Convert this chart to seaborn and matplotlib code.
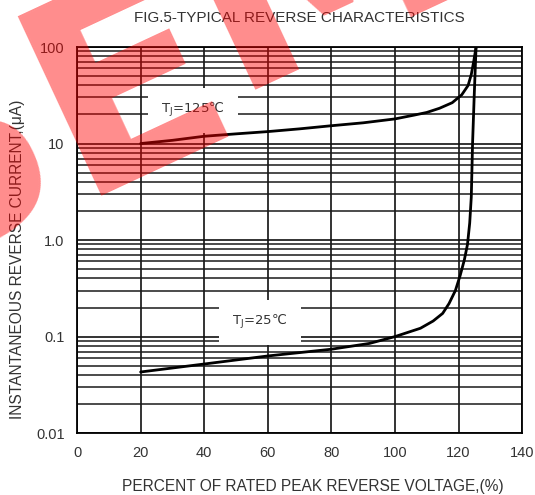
import numpy as np
import pandas as pd
import seaborn as sns
import matplotlib.pyplot as plt
from matplotlib.ticker import LogLocator, FixedLocator, NullFormatter

# values
x_125 = [20, 30, 40, 50, 60, 70, 80, 90, 100, 106, 110, 114, 118, 121, 123, 124, 124.8, 125.5]
y_125 = [10.0, 10.8, 11.9, 12.6, 13.3, 14.2, 15.3, 16.4, 18.0, 19.7, 21.0, 23.2, 26.5, 32, 40, 52, 72, 100]

x_25 = [20, 40, 60, 80, 92, 100, 108, 112, 115, 117, 119, 120.5, 121.8, 122.8, 123.5, 124, 124.4, 124.9, 125.5]
y_25 = [0.043, 0.052, 0.063, 0.074, 0.085, 0.10, 0.122, 0.145, 0.174, 0.22, 0.30, 0.43, 0.62, 0.9, 1.5, 2.8, 10, 30, 100]

x_ticks = [0, 20, 40, 60, 80, 100, 120, 140]
y_ticks = [0.01, 0.1, 1.0, 10, 100]
y_tick_labels = ["0.01", "0.1", "1.0", "10", "100"]

sns.set_theme(style="white")
plt.rcParams['font.family'] = ['Liberation Sans', 'DejaVu Sans']

fig = plt.figure(figsize=(5.35, 4.95), dpi=100)
ax = fig.add_axes([0.144, 0.125, 0.832, 0.78])

df125 = pd.DataFrame({"v": x_125, "i": y_125})
df25 = pd.DataFrame({"v": x_25, "i": y_25})
sns.lineplot(data=df125, x="v", y="i", ax=ax, color="black", lw=2.0, sort=False, zorder=5)
sns.lineplot(data=df25, x="v", y="i", ax=ax, color="black", lw=2.0, sort=False, zorder=5)

ax.set_yscale("log")
ax.set_xlim(0, 140)
ax.set_ylim(0.01, 100)
ax.xaxis.set_major_locator(FixedLocator(x_ticks))
ax.set_xticklabels([str(t) for t in x_ticks])
ax.yaxis.set_major_locator(FixedLocator(y_ticks))
ax.set_yticklabels(y_tick_labels)
ax.yaxis.set_minor_locator(LogLocator(base=10, subs=np.arange(2, 10)))
ax.yaxis.set_minor_formatter(NullFormatter())
ax.tick_params(axis="both", which="both", length=0, labelsize=10.5, colors="#333333")
ax.tick_params(axis="x", pad=9)
ax.tick_params(axis="y", pad=9)

ax.grid(True, which="major", axis="both", color="#111111", lw=1.2)
ax.grid(True, which="minor", axis="y", color="#1a1a1a", lw=1.1)
for s in ax.spines.values():
    s.set_color("black")
    s.set_linewidth(1.3)

ax.set_xlabel("PERCENT OF RATED PEAK REVERSE VOLTAGE,(%)", fontsize=11.2, color="#333333")
ax.xaxis.set_label_coords(0.53, -0.12)
ax.set_ylabel("INSTANTANEOUS REVERSE CURRENT,(\u03bcA)", fontsize=11.2, color="#333333")
ax.yaxis.set_label_coords(-0.118, 0.45)
ax.set_title("FIG.5-TYPICAL REVERSE CHARACTERISTICS", fontsize=11, color="#333333", pad=18)

box = dict(boxstyle="square,pad=1.0", fc="white", ec="none")
ax.text(36.5, 22, "T$_\\mathregular{J}$=125\u2103", fontsize=9.5, color="#333333",
        family="DejaVu Sans", ha="center", va="center", bbox=box, zorder=4)
ax.text(57.5, 0.14, "T$_\\mathregular{J}$=25\u2103", fontsize=9.5, color="#333333",
        family="DejaVu Sans", ha="center", va="center", bbox=box, zorder=4)

# red watermark letters over the scan
wm = dict(fontsize=195, color="red", alpha=0.45, fontweight="bold", family="DejaVu Sans",
          ha="center", va="center", rotation=25, rotation_mode="anchor", zorder=10)
fig.text(-0.085, 0.67, "S", **wm)
fig.text(0.24, 0.82, "E", **wm)
fig.text(0.60, 1.07, "M", **wm)

plt.savefig("out.png", dpi=100)
plt.close()
